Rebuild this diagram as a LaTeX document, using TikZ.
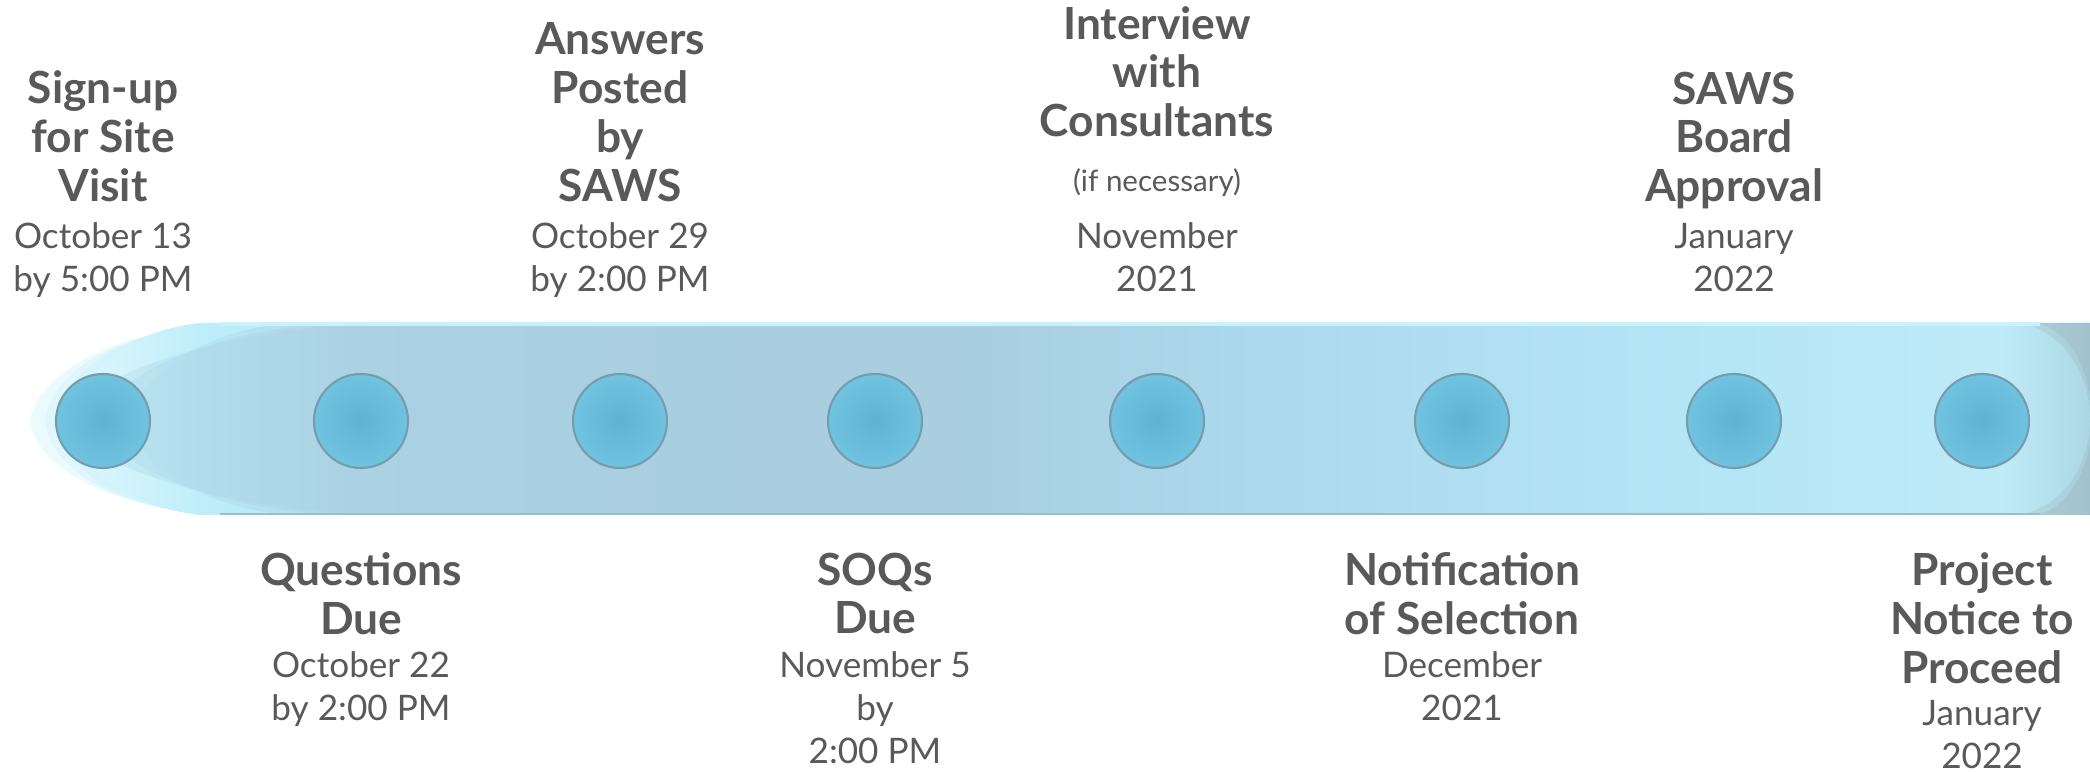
\documentclass[tikz,border=0pt]{standalone}
\usepackage{fontspec}
\setmainfont{Lato}
\usepackage{xcolor}
\usetikzlibrary{positioning,shapes}
\definecolor{textgray}{RGB}{89,89,89}
\definecolor{dotblue}{RGB}{112,196,224}
\definecolor{dotdark}{RGB}{96,178,210}
\definecolor{dotrim}{RGB}{118,156,174}
\definecolor{bandgrey}{RGB}{168,206,224}
\definecolor{bandblue}{RGB}{172,218,237}
\definecolor{bandcyan}{RGB}{180,230,246}
\definecolor{bandglow}{RGB}{190,238,250}
\definecolor{bandedge}{RGB}{200,242,252}
\definecolor{bandlow}{RGB}{150,190,206}
% main band, left to right
\pgfdeclarehorizontalshading{glowshade}{100bp}{color(0bp)=(bandglow!50!white); color(25bp)=(bandglow!50!white); color(28bp)=(bandglow); color(33bp)=(bandglow!60!bandgrey); color(45.4bp)=(bandgrey); color(54.1bp)=(bandblue); color(65.3bp)=(bandcyan); color(72.8bp)=(bandcyan!85!white); color(75bp)=(bandcyan!85!gray); color(100bp)=(bandcyan!85!gray)}
% grey core of the band
\pgfdeclarehorizontalshading{coreshade}{100bp}{color(0bp)=(bandgrey!50!bandglow); color(25bp)=(bandgrey!50!bandglow); color(31bp)=(bandgrey); color(46bp)=(bandgrey); color(54.5bp)=(bandblue); color(65.5bp)=(bandcyan); color(72.8bp)=(bandcyan!85!white); color(75bp)=(bandcyan!85!gray); color(100bp)=(bandcyan!85!gray)}
\tikzset{
    % timeline styles
    glowlayer/.style={fill=bandglow, opacity=0.3},
    band/.style={shading=glowshade, shading angle=0},
    bandcore/.style={shading=coreshade, shading angle=0, opacity=0.4},
    bandend/.style={fill=gray, opacity=0.12},
    dot/.style={
        circle, minimum size=0.94cm, inner sep=0pt,
        draw=dotrim, line width=0.6pt,
        inner color=dotdark, outer color=dotblue
    },
    titletext/.style={
        align=center, inner sep=0pt, text depth=0pt, text=textgray,
        font=\fontsize{12.6}{13.9}\selectfont\bfseries
    },
    datetext/.style={
        align=center, inner sep=0pt, text depth=0pt, text=textgray,
        font=\fontsize{10}{12.2}\selectfont
    },
    notetext/.style={
        align=center, inner sep=0pt, text depth=0pt, text=textgray,
        font=\fontsize{8.4}{10}\selectfont
    }
}
\begin{document}
\begin{tikzpicture}
\useasboundingbox (0,0) rectangle (20.9,7.72);

% soft glow at the left end
\path[glowlayer] (2.3,4.49) .. controls (1.0,4.40) and (0.35,3.92) .. (0.3,3.51)
    .. controls (0.35,3.10) and (1.0,2.62) .. (2.3,2.57) -- cycle;
\path[glowlayer] (2.2,4.49) .. controls (1.0,4.38) and (0.5,3.92) .. (0.45,3.51)
    .. controls (0.5,3.10) and (1.0,2.64) .. (2.2,2.57) -- cycle;
\path[glowlayer] (2.1,4.49) .. controls (1.0,4.36) and (0.65,3.92) .. (0.6,3.51)
    .. controls (0.65,3.10) and (1.0,2.66) .. (2.1,2.57) -- cycle;

% the band, then the soft grey core
\path[band] (2.0,4.49) -- (20.9,4.49) -- (20.9,2.57) -- (2.0,2.57)
    .. controls (1.1,2.68) and (0.82,3.1) .. (0.8,3.51)
    .. controls (0.82,3.92) and (1.1,4.38) .. (2.0,4.49) -- cycle;
\path[bandcore] (3.9,4.49) -- (20.9,4.49) -- (20.9,2.57) -- (3.9,2.57)
    .. controls (2.2,2.6) and (0.75,3.1) .. (0.7,3.51)
    .. controls (0.75,3.92) and (2.2,4.46) .. (3.9,4.49) -- cycle;
\path[bandcore] (3.4,4.49) -- (20.9,4.49) -- (20.9,2.57) -- (3.4,2.57)
    .. controls (2.1,2.62) and (1.05,3.1) .. (1.0,3.51)
    .. controls (1.05,3.92) and (2.1,4.44) .. (3.4,4.49) -- cycle;
\path[bandcore] (2.9,4.49) -- (20.9,4.49) -- (20.9,2.57) -- (2.9,2.57)
    .. controls (2.0,2.64) and (1.35,3.1) .. (1.3,3.51)
    .. controls (1.35,3.92) and (2.0,4.42) .. (2.9,4.49) -- cycle;

% shaded corners at the right end
\path[bandend] (20.1,4.49) -- (20.9,4.49) -- (20.9,2.57) -- (20.1,2.57)
    arc[start angle=-90, end angle=90, x radius=0.8, y radius=0.96] -- cycle;
\path[bandend] (20.3,4.49) -- (20.9,4.49) -- (20.9,2.57) -- (20.3,2.57)
    arc[start angle=-90, end angle=90, x radius=0.62, y radius=0.96] -- cycle;
\draw[bandedge, line width=1.2pt] (2.2,4.48) -- (20.4,4.48);
\draw[bandlow, line width=0.8pt] (2.2,2.58) -- (20.4,2.58);

% milestones
\node[dot] (c1) at (1.03,3.51) {};
\node[dot] (c2) at (3.61,3.51) {};
\node[dot] (c3) at (6.20,3.51) {};
\node[dot] (c4) at (8.75,3.51) {};
\node[dot] (c5) at (11.57,3.51) {};
\node[dot] (c6) at (14.62,3.51) {};
\node[dot] (c7) at (17.34,3.51) {};
\node[dot] (c8) at (19.82,3.51) {};

% above the band
\node[datetext, above=0.81cm of c1] (d1) {October 13\\by 5:00 PM};
\node[titletext, above=0.2cm of d1] (t1) {Sign-up\\for Site\\Visit};
\node[datetext, above=0.81cm of c3] (d3) {October 29\\by 2:00 PM};
\node[titletext, above=0.2cm of d3] (t3) {Answers\\Posted\\by\\SAWS};
\node[datetext, above=0.81cm of c5] (d5) {November\\2021};
\node[notetext, above=0.3cm of d5] (n5) {(if necessary)};
\node[titletext, above=0.3cm of n5] (t5) {Interview\\with\\Consultants};
\node[datetext, above=0.81cm of c7] (d7) {January\\2022};
\node[titletext, above=0.2cm of d7] (t7) {SAWS\\Board\\Approval};

% below the band
\node[titletext, below=0.83cm of c2] (t2) {Questions\\Due};
\node[datetext, below=0.16cm of t2] (d2) {October 22\\by 2:00 PM};
\node[titletext, below=0.83cm of c4] (t4) {SOQs\\Due};
\node[datetext, below=0.16cm of t4] (d4) {November 5\\by\\2:00 PM};
\node[titletext, below=0.83cm of c6] (t6) {Notification\\of Selection};
\node[datetext, below=0.16cm of t6] (d6) {December\\2021};
\node[titletext, below=0.83cm of c8] (t8) {Project\\Notice to\\Proceed};
\node[datetext, below=0.16cm of t8] (d8) {January\\2022};

\end{tikzpicture}
\end{document}
